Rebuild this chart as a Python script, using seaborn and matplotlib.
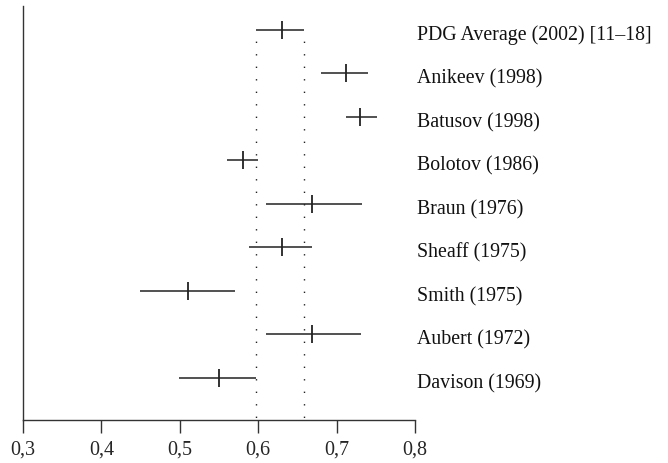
import matplotlib
matplotlib.use("Agg")
import matplotlib.pyplot as plt
import matplotlib.transforms as mtransforms
import seaborn as sns
import pandas as pd

# Data (top to bottom)
labels = ["PDG Average (2002) [11\u201318]", "Anikeev (1998)", "Batusov (1998)",
          "Bolotov (1986)", "Braun (1976)", "Sheaff (1975)", "Smith (1975)",
          "Aubert (1972)", "Davison (1969)"]
values = [0.630, 0.712, 0.730, 0.580, 0.669, 0.630, 0.511, 0.669, 0.550]
lower = [0.597, 0.680, 0.712, 0.560, 0.610, 0.588, 0.449, 0.610, 0.499]
upper = [0.659, 0.740, 0.751, 0.600, 0.732, 0.668, 0.570, 0.731, 0.597]
band = [0.597, 0.659]
xticks = [0.3, 0.4, 0.5, 0.6, 0.7, 0.8]
xtick_labels = ["0,3", "0,4", "0,5", "0,6", "0,7", "0,8"]

n = len(labels)
df = pd.DataFrame({"label": labels, "value": values, "lower": lower,
                   "upper": upper, "pos": [n - 1 - i for i in range(n)]})

sns.set_theme(style="white")
plt.rcParams["font.family"] = ["Liberation Serif", "DejaVu Serif"]

W, H = 668, 463
fig = plt.figure(figsize=(W / 100, H / 100), dpi=100)
ax = fig.add_axes([23 / W, (H - 420) / H, (415 - 23) / W, (420 - 6) / H])

ink = "#222222"
# error bars
ax.hlines(df["pos"], df["lower"], df["upper"], color=ink, lw=1.1)
# central values
sns.scatterplot(data=df, x="value", y="pos", marker="|", s=180,
                color=ink, linewidth=1.3, ax=ax, legend=False, zorder=3)

# dotted band of PDG average
top = df["pos"].iloc[0]
for b in band:
    ax.vlines(b, -1.2, top, color=ink, lw=1.0, linestyles=(0, (1, 8)), zorder=1)

ax.set_xlim(0.3, 0.8)
ax.set_ylim(-0.966, n - 1 + 0.55)
ax.set_xticks(xticks)
ax.set_xticklabels(xtick_labels, fontsize=14.5)
ax.set_yticks([])
ax.set_xlabel("")
ax.set_ylabel("")

for side in ["top", "right"]:
    ax.spines[side].set_visible(False)
for side in ["left", "bottom"]:
    ax.spines[side].set_color("#333333")
    ax.spines[side].set_linewidth(1.0)
ax.tick_params(axis="x", direction="out", length=9.5, width=1.0,
               color="#333333", pad=5.5, bottom=True)

trans = mtransforms.blended_transform_factory(ax.transAxes, ax.transData)
for lab, p in zip(df["label"], df["pos"]):
    ax.text(1.005, p - 0.13, lab, transform=trans, ha="left", va="center",
            fontsize=14.3, color="#111111", clip_on=False)

fig.savefig("out.png", dpi=100)
